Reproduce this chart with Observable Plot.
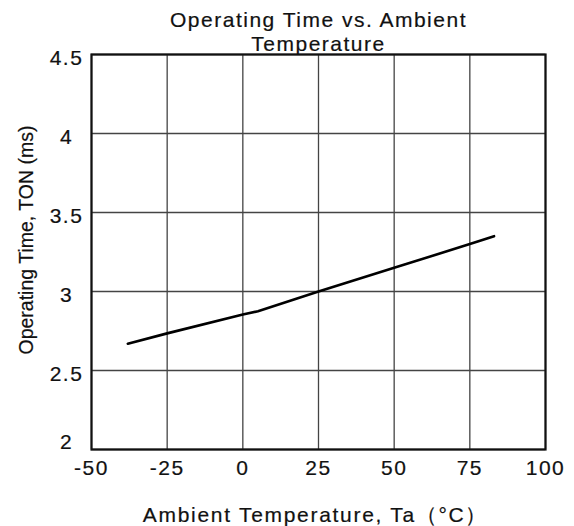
<!DOCTYPE html>
<html>
<head>
<meta charset="utf-8">
<script src="https://cdn.jsdelivr.net/npm/d3@7"></script>
<script src="https://cdn.jsdelivr.net/npm/@observablehq/plot@0.6"></script>
<style>
  html, body { margin: 0; padding: 0; background: white; }
  #wrap { position: relative; width: 574px; height: 526px; padding-top: 46px; box-sizing: border-box; font-family: "Liberation Sans", Arial, sans-serif; }
  #title { position: absolute; left: 92px; width: 453px; top: 8px; text-align: center; font-size: 21px; line-height: 24px; letter-spacing: 1.5px; color: #111; z-index: 2; -webkit-text-stroke: 0.2px #111; }
  #chart svg text { stroke: #111; stroke-width: 0.2px; }
</style>
</head>
<body>
<div id="wrap">
  <div id="title">Operating Time vs. Ambient<br>Temperature</div>
  <div id="chart"></div>
</div>
<script>
const titleText = "Operating Time vs. Ambient Temperature";
const xLabel = "Ambient Temperature, Ta（°C）";
const yLabel = "Operating Time, TON (ms)";
const temperatures = [-38, -25, 0, 5, 25, 50, 75, 83];
const operatingTimes = [2.67, 2.735, 2.855, 2.875, 3.0, 3.15, 3.30, 3.35];
const xTicks = [-50, -25, 0, 25, 50, 75, 100];
const yTicks = [2, 2.5, 3, 3.5, 4, 4.5];

const data = temperatures.map((t, i) => ({t, v: operatingTimes[i]}));

const chart = Plot.plot({
  width: 574,
  height: 480,
  marginTop: 8,
  marginBottom: 77,
  marginLeft: 91,
  marginRight: 29,
  style: {background: "none", fontFamily: "'Liberation Sans', Arial, sans-serif", color: "#111"},
  x: {domain: [-50, 100]},
  y: {domain: [2, 4.5]},
  marks: [
    Plot.gridX(xTicks, {stroke: "#444", strokeOpacity: 1, strokeWidth: 1.3}),
    Plot.gridY(yTicks, {stroke: "#444", strokeOpacity: 1, strokeWidth: 1.3}),
    Plot.frame({stroke: "#111", strokeWidth: 2.2}),
    Plot.axisX(xTicks, {tickSize: 0, tickPadding: 11, fontSize: 21, label: null, tickFormat: d => String(d)}),
    Plot.axisY(yTicks.filter(d => d !== 2), {tickSize: 0, tickPadding: 25, textAnchor: "middle", dy: 4, fontSize: 21, label: null, tickFormat: d => String(d)}),
    Plot.axisY(yTicks.filter(d => d === 2), {tickSize: 0, tickPadding: 25, textAnchor: "middle", dy: -7, fontSize: 21, label: null, tickFormat: d => String(d)}),
    Plot.line(data, {x: "t", y: "v", stroke: "#000", strokeWidth: 2.6}),
    Plot.text([xLabel], {frameAnchor: "bottom", lineAnchor: "bottom", dy: 72, dx: -3, fontSize: 21, text: d => d, className: "xlab"}),
    Plot.text([yLabel], {frameAnchor: "left", textAnchor: "middle", lineAnchor: "bottom", rotate: -90, dx: -59, dy: -12, fontSize: 19.5, text: d => d})
  ]
});
document.getElementById("chart").appendChild(chart);
d3.select(chart).selectAll("g[aria-label='x-axis tick label'] text, g[aria-label='y-axis tick label'] text").style("letter-spacing", "1.5px");
d3.select(chart).selectAll(".xlab text").style("letter-spacing", "1.7px");
</script>
</body>
</html>
